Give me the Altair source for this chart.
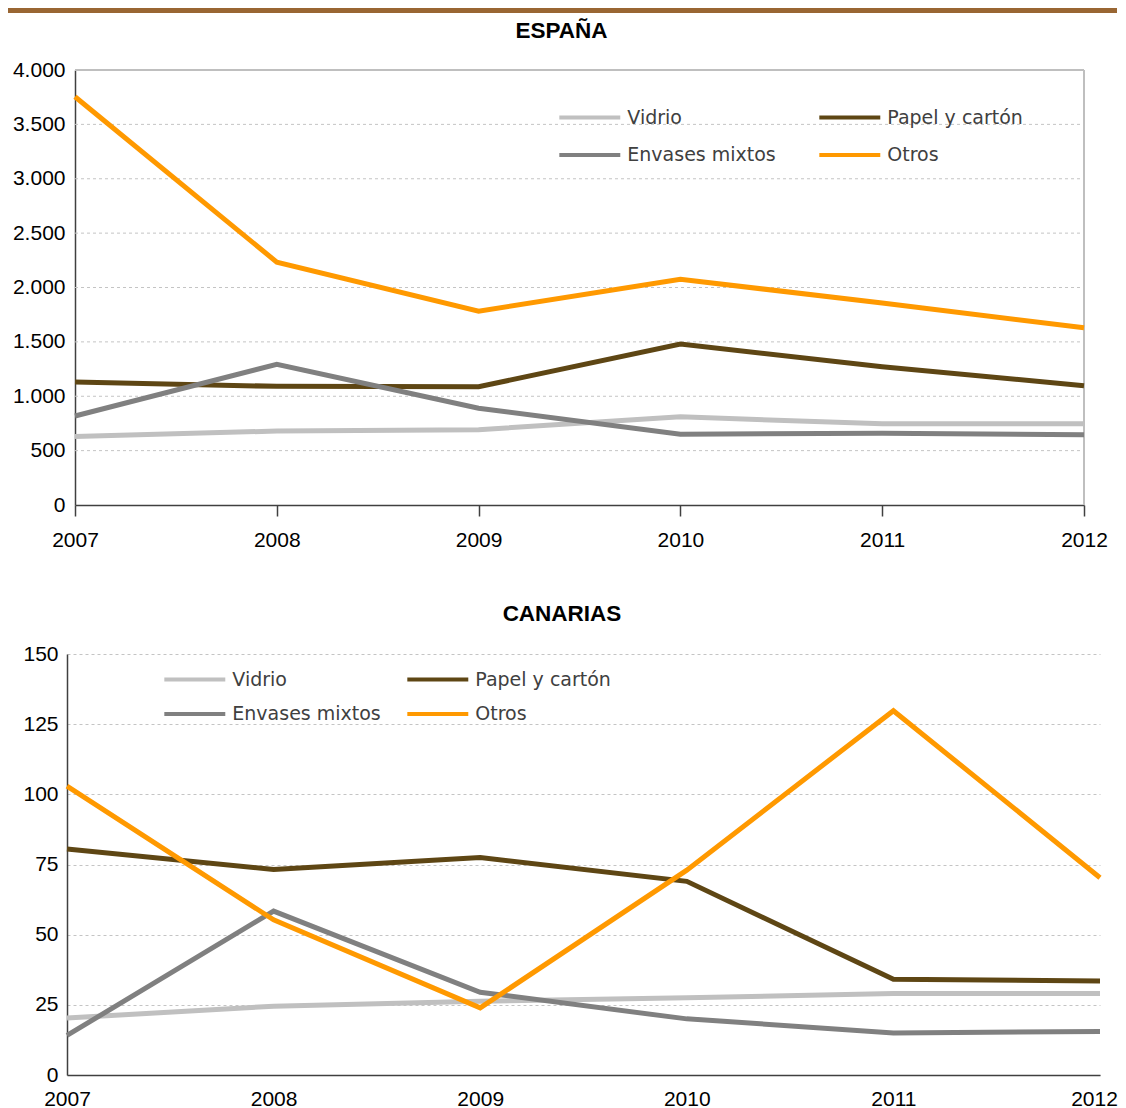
import altair as alt
import pandas as pd

# ---------------- data ----------------
years = [2007, 2008, 2009, 2010, 2011, 2012]
series = ["Vidrio", "Papel y cartón", "Envases mixtos", "Otros"]
series_colors = ["#c0c0c0", "#5e4614", "#808080", "#ff9900"]
# legend fills column by column: this order gives rows "Vidrio / Papel" and "Envases / Otros"
legend_order = ["Vidrio", "Envases mixtos", "Papel y cartón", "Otros"]

esp_vidrio = [631, 680, 693, 811, 746, 746]
esp_papel = [1130, 1091, 1087, 1481, 1271, 1097]
esp_envases = [818, 1294, 890, 650, 660, 647]
esp_otros = [3754, 2233, 1783, 2075, 1858, 1629]
esp_ticks = [0, 500, 1000, 1500, 2000, 2500, 3000, 3500, 4000]

can_vidrio = [20.3, 24.5, 26.3, 27.5, 29.0, 29.0]
can_papel = [80.5, 73.2, 77.5, 69.0, 34.1, 33.5]
can_envases = [14.1, 58.4, 29.5, 20.0, 15.0, 15.5]
can_otros = [102.9, 55.3, 23.9, 73.0, 129.8, 70.3]
can_ticks = [0, 25, 50, 75, 100, 125, 150]

title_esp = "ESPAÑA"
title_can = "CANARIAS"


def long_df(values):
    rows = []
    for name, vals in zip(series, values):
        for yr, v in zip(years, vals):
            rows.append({"serie": name, "year": yr, "value": v})
    return pd.DataFrame(rows)


esp_df = long_df([esp_vidrio, esp_papel, esp_envases, esp_otros])
can_df = long_df([can_vidrio, can_papel, can_envases, can_otros])

# ---------------- style ----------------
AX_FONT = "Liberation Sans"
LEG_FONT = "DejaVu Sans"
DARK = "#404040"
GRID = "#c4c4c4"
BORDER = "#bfbfbf"
THOUSANDS = "replace(format(datum.value, ','), ',', '.')"

color_of = dict(zip(series, series_colors))
color_scale = alt.Scale(domain=legend_order, range=[color_of[s] for s in legend_order])


def make_legend(lx, ly, colpad, rowpad):
    return alt.Legend(
        title=None, orient="none", legendX=lx, legendY=ly, columns=2,
        symbolType="M-3,0H3", symbolSize=413, symbolStrokeWidth=4,
        symbolOffset=20.3, labelOffset=25,
        labelFont=LEG_FONT, labelFontSize=19, labelColor=DARK,
        rowPadding=rowpad, columnPadding=colpad, padding=0, labelLimit=400,
    )


# ---------------- brown strip ----------------
W1, H1 = 1017, 435
W2, H2 = 1033, 421

strip = alt.Chart(alt.Data(values=[{"k": 0}])).mark_rect(color="#996633").encode(
    x=alt.value(-59), x2=alt.value(1050), y=alt.value(0), y2=alt.value(5)
).properties(width=W1, height=5)

# ---------------- ESPAÑA ----------------
x1 = alt.Scale(domain=[years[0], years[-1]], range=[8, W1], nice=False, zero=False)
y1 = alt.Scale(domain=[esp_ticks[0], esp_ticks[-1]], nice=False, zero=True)
ax_x1 = alt.Axis(
    values=years, format="d", title=None, grid=False,
    ticks=True, tickSize=11, tickColor=DARK, tickWidth=1.5,
    domainColor=DARK, domainWidth=1.5, labelPadding=13,
    labelFlush=False, labelOverlap=False)
ax_y1 = alt.Axis(
    values=esp_ticks, labelExpr=THOUSANDS, title=None, grid=False,
    ticks=False, domainColor=DARK, domainWidth=1.5, labelPadding=10,
    offset=-8, labelFlush=False, labelOverlap=False)

grid1 = pd.DataFrame({"v": esp_ticks[1:-1], "x0": years[0], "x1": years[-1]})
top_edge = pd.DataFrame({"v": [esp_ticks[-1]], "x0": [years[0]], "x1": [years[-1]]})
right_edge = pd.DataFrame({"x": [years[-1]], "y0": [esp_ticks[0]], "y1": [esp_ticks[-1]]})

g1 = alt.Chart(grid1).mark_rule(color=GRID, strokeWidth=1, strokeDash=[3, 3]).encode(
    x=alt.X("x0:Q", scale=x1, axis=ax_x1), x2="x1:Q",
    y=alt.Y("v:Q", scale=y1, axis=ax_y1),
)
e1 = alt.Chart(top_edge).mark_rule(color=BORDER, strokeWidth=2).encode(
    x=alt.X("x0:Q", scale=x1, axis=ax_x1), x2="x1:Q",
    y=alt.Y("v:Q", scale=y1, axis=ax_y1),
)
e2 = alt.Chart(right_edge).mark_rule(color=BORDER, strokeWidth=2).encode(
    x=alt.X("x:Q", scale=x1, axis=ax_x1),
    y=alt.Y("y0:Q", scale=y1, axis=ax_y1), y2="y1:Q",
)
l1 = alt.Chart(esp_df).mark_line(strokeWidth=5).encode(
    x=alt.X("year:Q", scale=x1, axis=ax_x1),
    y=alt.Y("value:Q", scale=y1, axis=ax_y1),
    color=alt.Color("serie:N", scale=color_scale,
                    legend=make_legend(490, 34.8, 35, 14.7)),
)
esp_chart = alt.layer(g1, e1, e2, l1).properties(
    width=W1, height=H1,
    title=alt.TitleParams(title_esp, dx=-14, offset=17),
)

# ---------------- CANARIAS ----------------
x2s = alt.Scale(domain=[years[0], years[-1]], nice=False, zero=False)
y2s = alt.Scale(domain=[can_ticks[0], can_ticks[-1]], nice=False, zero=True)
last_label_shift = {"condition": {"test": f"datum.value == {years[-1]}", "value": -6}, "value": 0}

l2 = alt.Chart(can_df).mark_line(strokeWidth=5).encode(
    x=alt.X("year:Q", scale=x2s, axis=alt.Axis(
        values=years, format="d", title=None, grid=False, ticks=False,
        domainColor=DARK, domainWidth=1.5, labelPadding=13,
        labelOffset=last_label_shift,
        labelFlush=False, labelOverlap=False)),
    y=alt.Y("value:Q", scale=y2s, axis=alt.Axis(
        values=can_ticks, title=None, grid=True, gridColor=GRID,
        gridDash=[3, 3], gridWidth=1, ticks=False, domainColor=DARK,
        domainWidth=1.5, labelPadding=9, labelFlush=False, labelOverlap=False)),
    color=alt.Color("serie:N", scale=color_scale,
                    legend=make_legend(95, 12.8, 18, 11.7)),
)
can_chart = l2.properties(
    width=W2, height=H2,
    title=alt.TitleParams(["", title_can], dx=-21.5, offset=18, lineHeight=46),
)

chart = alt.vconcat(strip, esp_chart, can_chart, spacing=6).resolve_scale(
    color="independent", x="independent", y="independent"
).resolve_legend(color="independent").properties(
    padding=0
).configure_view(stroke=None).configure_axis(
    labelFont=AX_FONT, labelFontSize=21, labelColor="#000000"
).configure_title(
    font=AX_FONT, fontSize=22.5, fontWeight="bold", color="#000000",
    anchor="middle", frame="group", baseline="top"
)

chart.save("out.html", embed_options={"renderer": "svg", "actions": False})
